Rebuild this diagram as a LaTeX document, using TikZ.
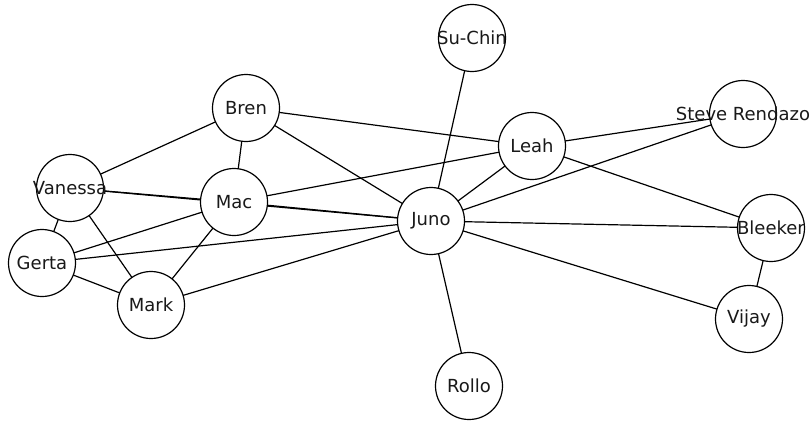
\documentclass[tikz,border=0pt]{standalone}
\usepackage{fontspec}
\setmainfont{DejaVu Sans}
\usetikzlibrary{backgrounds}
\begin{document}
\begin{tikzpicture}[x=1pt,y=-1pt,
  vert/.style={circle,draw=black,line width=1.2pt,fill=white,minimum size=67pt,inner sep=0pt},
  lab/.style={font=\fontsize{18}{20}\selectfont,inner sep=0pt,text=black!90},
  edge/.style={draw=black,line width=1.2pt}]
\useasboundingbox (0,0) rectangle (811,423);
\node[vert] (suchin) at (472,38) {};
\node[vert] (bren) at (246,108) {};
\node[vert] (leah) at (532,146) {};
\node[vert] (steve) at (743,114) {};
\node[vert] (vanessa) at (70,188) {};
\node[vert] (mac) at (234,202) {};
\node[vert] (juno) at (431,221) {};
\node[vert] (bleeker) at (771,228) {};
\node[vert] (gerta) at (42,263) {};
\node[vert] (mark) at (151,305) {};
\node[vert] (vijay) at (749,319) {};
\node[vert] (rollo) at (469,386) {};
\begin{scope}[on background layer]
\foreach \a/\b in {suchin/juno,bren/vanessa,bren/mac,bren/leah,bren/juno,
  leah/steve,leah/juno,leah/mac,leah/bleeker,steve/juno,vanessa/mac,vanessa/gerta,
  vanessa/mark,vanessa/juno,mac/juno,mac/gerta,mac/mark,juno/gerta,juno/mark,juno/bleeker,
  juno/vijay,juno/rollo,gerta/mark,bleeker/vijay}
  \draw[edge] (\a.center) -- (\b.center);
\end{scope}
\node[lab] at (suchin) {Su-Chin};
\node[lab] at (bren) {Bren};
\node[lab] at (leah) {Leah};
\node[lab] at (steve) {Steve Rendazo};
\node[lab] at (vanessa) {Vanessa};
\node[lab] at (mac) {Mac};
\node[lab] at (juno) {Juno};
\node[lab] at (bleeker) {Bleeker};
\node[lab] at (gerta) {Gerta};
\node[lab] at (mark) {Mark};
\node[lab] at (vijay) {Vijay};
\node[lab] at (rollo) {Rollo};
\end{tikzpicture}
\end{document}
